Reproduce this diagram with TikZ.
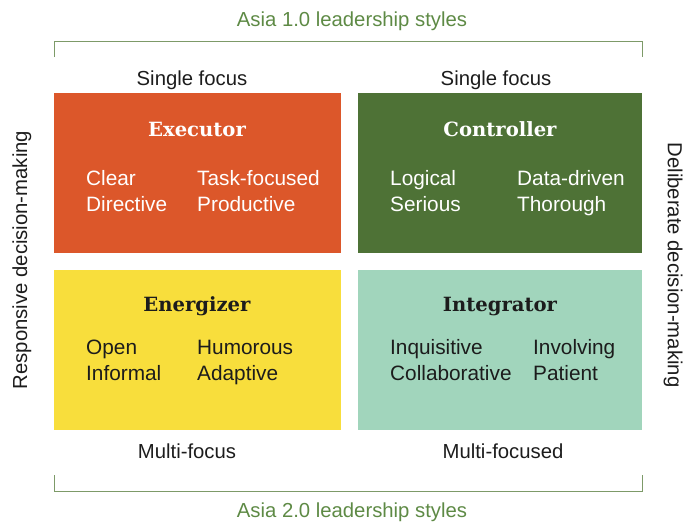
\documentclass[tikz,border=0pt]{standalone}
\usepackage{fontspec}
\setmainfont{Liberation Sans}
\newfontfamily\titlefont{DejaVu Serif}
\definecolor{execC}{HTML}{DC572A}
\definecolor{ctrlC}{HTML}{4E7236}
\definecolor{enerC}{HTML}{F8DE3C}
\definecolor{inteC}{HTML}{A1D5BC}
\definecolor{asiaC}{HTML}{5E8A45}
\definecolor{brackC}{HTML}{7D9A68}
\definecolor{inkC}{HTML}{1C1C1C}
\begin{document}
\begin{tikzpicture}[x=1pt,y=-1pt,
  quad/.style={draw=none,fill=#1,minimum height=160pt,anchor=north west,inner sep=0pt},
  lbl/.style={inner sep=0pt,font=\fontsize{20.3}{24}\selectfont},
  ttl/.style={inner sep=0pt,anchor=base,font=\titlefont\bfseries\fontsize{19.6}{23}\selectfont},
  item/.style={inner sep=0pt,anchor=base west,align=left,font=\fontsize{20.8}{24}\selectfont},
  bracket/.style={draw=brackC,line width=1pt}]
\useasboundingbox (0,0) rectangle (690,522);

% the four quadrants
\node[quad=execC,minimum width=287pt] (exec) at (54,93) {};
\node[quad=ctrlC,minimum width=284pt] (ctrl) at (358,93) {};
\node[quad=enerC,minimum width=287pt] (ener) at (54,270) {};
\node[quad=inteC,minimum width=284pt] (inte) at (358,270) {};

% quadrant titles
\node[ttl,text=white] (execT) at (197,136) {Executor};
\node[ttl,text=white] (ctrlT) at (500,136) {Controller};
\node[ttl,text=inkC] (enerT) at (197,311) {Energizer};
\node[ttl,text=inkC] (inteT) at (500,311) {Integrator};

% traits
\node[item,text=white] (e1) at (86,185) {Clear};
\node[item,text=white] (e2) at (86,211) {Directive};
\node[item,text=white] (e3) at (197,185) {Task-focused};
\node[item,text=white] (e4) at (197,211) {Productive};
\node[item,text=white] (c1) at (390,185) {Logical};
\node[item,text=white] (c2) at (390,211) {Serious};
\node[item,text=white] (c3) at (517,185) {Data-driven};
\node[item,text=white] (c4) at (517,211) {Thorough};
\node[item,text=inkC] (n1) at (86,354) {Open};
\node[item,text=inkC] (n2) at (86,380) {Informal};
\node[item,text=inkC] (n3) at (197,354) {Humorous};
\node[item,text=inkC] (n4) at (197,380) {Adaptive};
\node[item,text=inkC] (i1) at (390,354) {Inquisitive};
\node[item,text=inkC] (i2) at (390,380) {Collaborative};
\node[item,text=inkC] (i3) at (533,354) {Involving};
\node[item,text=inkC] (i4) at (533,380) {Patient};

% column captions
\node[lbl,anchor=base,text=inkC] (sf1) at (192,85) {Single focus};
\node[lbl,anchor=base,text=inkC] (sf2) at (496,85) {Single focus};
\node[lbl,anchor=base,text=inkC] (mf1) at (187,458) {Multi-focus};
\node[lbl,anchor=base,text=inkC] (mf2) at (503,458) {Multi-focused};

% brackets and era labels
\coordinate (tl) at (54,57);
\coordinate (tr) at (642,57);
\coordinate (bl) at (54,475);
\coordinate (br) at (642,475);
\draw[bracket] (tl) -- (tl |- 0,41) -- (tr |- 0,41) -- (tr);
\draw[bracket] (bl) -- (bl |- 0,491) -- (br |- 0,491) -- (br);
\node[lbl,anchor=base,text=asiaC] (asia1) at (352,27) {Asia 1.0 leadership styles};
\node[lbl,anchor=base,text=asiaC] (asia2) at (352,517) {Asia 2.0 leadership styles};

% side axes
\node[lbl,rotate=90,text=inkC] (resp) at (22,260) {Responsive decision-making};
\node[lbl,rotate=-90,text=inkC] (delib) at (673,265) {Deliberate decision-making};
\end{tikzpicture}
\end{document}
